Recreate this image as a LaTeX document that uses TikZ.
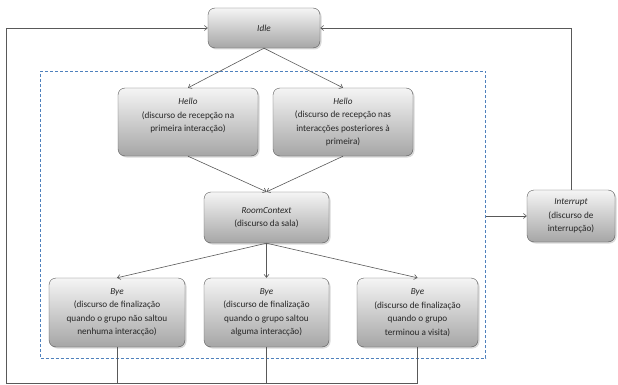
\documentclass[tikz,border=0pt]{standalone}
\usepackage{fontspec}
\setmainfont{Carlito}
\usetikzlibrary{arrows.meta,shadows}
\definecolor{framecol}{RGB}{79,129,189}

\begin{document}
\begin{tikzpicture}[x=1pt,y=-1pt,>={Straight Barb[length=3pt,width=5pt]},
	state/.style={draw=black!65, rounded corners=7pt, top color=black!4, bottom color=black!35,
		drop shadow={shadow xshift=1.5pt,shadow yshift=-1.5pt,opacity=0.3},
		align=center, inner sep=2pt, font=\fontsize{9.2}{13.5}\selectfont, text=black!85},
	link/.style={draw=black!65, line width=0.6pt, ->}]
	%\draw [help lines] (0,0) grid (618,385);
	\useasboundingbox (0,0) rectangle (618,385);
	\node (frame) [draw=framecol, dash pattern=on 3pt off 2pt, inner sep=0, minimum width=445, minimum height=287] at (263.1,214.5) {};
	\node (idle) [state, minimum width=112, minimum height=40] at (264,28) {\textit{Idle}};
	\node (hello1) [state, minimum width=140, minimum height=68] at (188,122) {\textit{Hello}\\(discurso de recepção na\\primeira interacção)\\~};
	\node (hello2) [state, minimum width=140, minimum height=68] at (343,122) {\textit{Hello}\\(discurso de recepção nas\\interacções posteriores à\\primeira)};
	\node (room) [state, minimum width=125, minimum height=51] at (266.5,217.5) {\textit{RoomContext}\\(discurso da sala)};
	\node (interrupt) [state, minimum width=88, minimum height=52] at (571,216) {\textit{Interrupt}\\(discurso de\\interrupção)};
	\node (bye1) [state, minimum width=136, minimum height=69] at (117,312.5) {\textit{Bye}\\(discurso de finalização\\quando o grupo não saltou\\nenhuma interacção)};
	\node (bye2) [state, minimum width=125, minimum height=69] at (266.5,312.5) {\textit{Bye}\\(discurso de finalização\\quando o grupo saltou\\alguma interacção)};
	\node (bye3) [state, minimum width=121, minimum height=69] at (417.5,312.5) {\textit{Bye}\\(discurso de finalização\\quando o grupo\\terminou a visita)};
	\draw [link] (idle.south) -- (hello1.north);
	\draw [link] (idle.south) -- (hello2.north);
	\draw [link] (hello1.south) -- (room.north);
	\draw [link] (hello2.south) -- (room.north);
	\foreach \b in {bye1,bye2,bye3}
		\draw [link] (room.south) -- (\b.north);
	\coordinate (loop) at (6,383);
	\draw [link] (bye3.south) |- (loop) |- (idle.west);
	\draw [link, -] (bye1.south) -- (bye1.south |- loop);
	\draw [link, -] (bye2.south) -- (bye2.south |- loop);
	\draw [link] (frame.east |- interrupt.west) -- (interrupt.west);
	\draw [link] (interrupt.north) |- (idle.east);
\end{tikzpicture}
\end{document}
